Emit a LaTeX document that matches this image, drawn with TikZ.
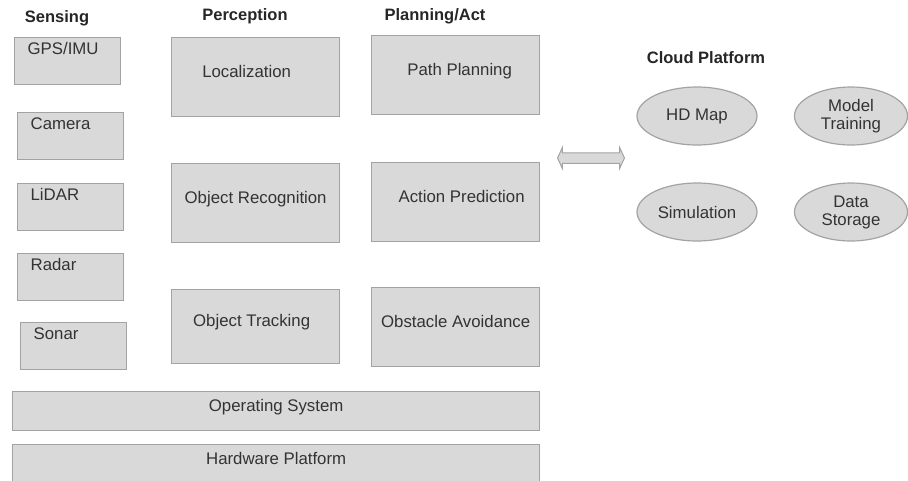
\documentclass[tikz,border=0pt]{standalone}
\usepackage{fontspec}
\setmainfont{Liberation Sans}
\usetikzlibrary{shapes.geometric, shapes.arrows, positioning}
\definecolor{boxfill}{HTML}{D9D9D9}
\definecolor{boxline}{HTML}{A3A3A3}
\definecolor{txt}{HTML}{333333}

\begin{document}
\begin{tikzpicture}[x=1pt, y=-1pt]
	\tikzset{every node/.style={font=\fontsize{16.8}{18}\selectfont, text=txt},
		box/.style={draw=boxline, line width=1.3pt, fill=boxfill, anchor=north west, inner sep=0pt},
		sensor/.style={box, minimum width=106pt, minimum height=47pt, text width=80pt, inner xsep=13pt, align=left, text depth=26pt},
		block/.style={box, minimum width=168pt, minimum height=79pt, text depth=12pt},
		layer/.style={box, minimum width=527pt, minimum height=39pt, text depth=12pt},
		cloud/.style={ellipse, draw=boxline, line width=1.2pt, fill=boxfill, minimum width=120pt, minimum height=58pt, inner sep=0pt, align=center},
		head/.style={font=\bfseries\fontsize{16.5}{18}\selectfont, text=black!85} }
	
	\useasboundingbox (0,0) rectangle (908,480);
	
	% column titles
	\node[head] (sensing) at (57,18) {Sensing};
	\node[head] (perception) at (245,16) {Perception};
	\node[head] (planning) at (435,16) {Planning/Act};
	\node[head] (cloudhead) at (706,58) {Cloud Platform};
	
	% sensing
	\node[sensor] (gps) at (14,37) {GPS/IMU};
	\node[sensor] (camera) at (17,112) {Camera};
	\node[sensor] (lidar) at (17,183) {LiDAR};
	\node[sensor] (radar) at (17,253) {Radar};
	\node[sensor] (sonar) at (20,322) {Sonar};
	
	% perception
	\node[block] (loc) at (171,37) {Localization\kern18pt};
	\node[block] (objrec) at (171,163) {Object Recognition};
	\node[block, minimum height=74pt] (objtrack) at (171,289) {Object Tracking\kern8pt};
	
	% planning / act
	\node[block] (pathplan) at (371,35) {\kern8pt Path Planning};
	\node[block] (actpred) at (371,162) {\kern12pt Action Prediction};
	\node[block] (obstacle) at (371,287) {Obstacle Avoidance};
	
	% system layers
	\node[layer] (os) at (12,391) {Operating System};
	\node[layer, minimum height=40pt] (hw) at (12,444) {Hardware Platform};
	
	% link to the cloud
	\node[double arrow, draw=boxline, fill=boxfill, line width=1pt, minimum height=67pt, minimum width=21pt, inner sep=0pt, text height=9pt, double arrow head extend=5pt, double arrow tip angle=130] (link) at (591,158) {};
	
	% cloud platform
	\node[cloud] (hdmap) at (697,116) {HD Map};
	\node[cloud, minimum width=113pt] (training) at (851,116) {Model\\Training};
	\node[cloud] (sim) at (697,212) {Simulation};
	\node[cloud, minimum width=113pt] (storage) at (851,212) {Data\\Storage};
\end{tikzpicture}
\end{document}
